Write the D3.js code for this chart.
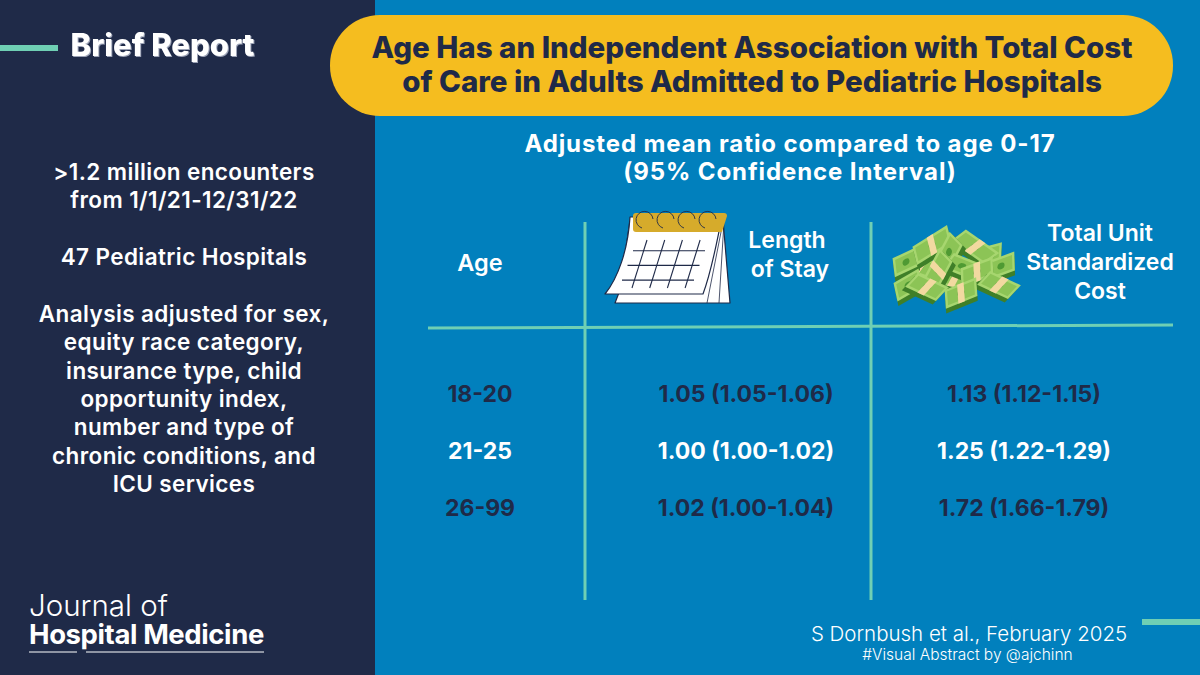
<!DOCTYPE html>
<html>
<head>
<meta charset="utf-8">
<script src="https://cdnjs.cloudflare.com/ajax/libs/d3/7.8.5/d3.min.js"></script>
<style>
html,body{margin:0;padding:0;background:#0180bd}
svg{display:block}
text{font-family:Inter,"Noto Sans",sans-serif}
</style>
</head>
<body>
<svg id="chart" width="1200" height="675"></svg>
<script>
var ages = ["18-20", "21-25", "26-99"];
var losValues = ["1.05 (1.05-1.06)", "1.00 (1.00-1.02)", "1.02 (1.00-1.04)"];
var costValues = ["1.13 (1.12-1.15)", "1.25 (1.22-1.29)", "1.72 (1.66-1.79)"];
var columns = ["age", "los", "cost"];
var titleLines = ["Age Has an Independent Association with Total Cost", "of Care in Adults Admitted to Pediatric Hospitals"];
var subtitleLines = ["Adjusted mean ratio compared to age 0-17", "(95% Confidence Interval)"];
var sideLines = [">1.2 million encounters", "from 1/1/21-12/31/22", "", "47 Pediatric Hospitals", "", "Analysis adjusted for sex,",
  "equity race category,", "insurance type, child", "opportunity index,", "number and type of", "chronic conditions, and", "ICU services"];

var navy = "#1f2a48", blue = "#0180bd", yellow = "#f5bd1f", teal = "#6fcfb4", white = "#ffffff";

var svg = d3.select("#chart");
svg.append("rect").attr("width", 1200).attr("height", 675).attr("fill", blue);
svg.append("rect").attr("width", 375).attr("height", 675).attr("fill", navy);

function label(g, x, y, str, size, weight, color, anchor) {
  return g.append("text").attr("x", x).attr("y", y).text(str)
    .attr("font-size", size).attr("font-weight", weight).attr("fill", color)
    .attr("text-anchor", anchor || "middle");
}
function bar(x1, y1, x2, y2, w) {
  svg.append("line").attr("x1", x1).attr("y1", y1).attr("x2", x2).attr("y2", y2)
    .attr("stroke", teal).attr("stroke-width", w);
}

// accents
bar(0, 48, 58, 48, 6);
bar(1142, 622, 1200, 622, 6);

// brief report
label(svg, 162.5, 56, "Brief Report", 31, 800, white)
  .style("filter", "drop-shadow(1.5px 1.5px 0 #9aa1b5)");

// title pill
svg.append("rect").attr("x", 330).attr("y", 15).attr("width", 843).attr("height", 101).attr("rx", 50).attr("fill", yellow);
titleLines.forEach(function(t, i) { label(svg, 752, 58 + i * 34, t, 29.5, 800, navy); });

// side text
var sideY = d3.scaleLinear().domain([0, sideLines.length - 1]).range([180, 492]);
sideLines.forEach(function(t, i) { label(svg, 184, sideY(i), t, 22.5, 600, white).attr("letter-spacing", 0.4); });

// journal
label(svg, 29, 616, "Journal of", 29.5, 300, white, "start");
label(svg, 29, 644, "Hospital Medicine", 27.5, 700, white, "start").attr("letter-spacing", -0.4);
svg.append("path").attr("d", "M29,652H77M86,652H264").attr("stroke", white).attr("stroke-width", 1).attr("fill", "none");

// subtitle
subtitleLines.forEach(function(t, i) { label(svg, 790, 152 + i * 28, t, 24, 700, white).attr("letter-spacing", 0.9); });

// table
var x = d3.scaleOrdinal().domain(columns).range([480, 746, 1024]);
var y = d3.scalePoint().domain(ages).range([394, 508]);

bar(428, 328, 1173, 325, 3);
bar(585, 222, 585, 600, 3);
bar(871, 222, 871, 600, 3);

label(svg, x("age"), 271, "Age", 23.5, 600, white);
label(svg, 787, 248, "Length", 23, 600, white);
label(svg, 790, 277, "of Stay", 23, 600, white);
label(svg, 1100, 241, "Total Unit", 23, 600, white);
label(svg, 1100, 270, "Standardized", 23, 600, white);
label(svg, 1100, 299, "Cost", 23, 600, white);

var rows = svg.selectAll("g.row").data(ages).enter().append("g").attr("class", "row")
  .attr("transform", function(d) { return "translate(0," + (y(d) + 8) + ")"; });
function rowColor(d) { return d === "21-25" ? white : navy; }
rows.append("text").attr("x", x("age")).text(function(d) { return d; });
rows.append("text").attr("x", x("los")).text(function(d, i) { return losValues[i]; });
rows.append("text").attr("x", x("cost")).text(function(d, i) { return costValues[i]; });
rows.selectAll("text").attr("text-anchor", "middle").attr("font-size", 23).attr("font-weight", 700)
  .attr("fill", function() { return rowColor(d3.select(this.parentNode).datum()); });

// footer
label(svg, 969, 641, "S Dornbush et al., February 2025", 20.5, 300, white);
label(svg, 967.5, 660, "#Visual Abstract by @ajchinn", 15.5, 300, white);

// calendar icon
var cal = svg.append("g").attr("fill", "none").attr("stroke", navy).attr("stroke-linejoin", "round");
cal.append("path").attr("d", "M615,303L730,303L723,220L630,220L620,290Z").attr("fill", white).attr("stroke-width", 1.2);
cal.append("path").attr("d", "M707,303L723,222M719,303L724,222").attr("stroke-width", 0.8);
cal.append("path").attr("d", "M605,294C618,278 628,250 630,217L722,217C716,245 712,270 703,294Z").attr("fill", white).attr("stroke-width", 1.2);
cal.append("path").attr("d", "M636,213L724,213Q727,213 727,216L722,232L636,232Q633,232 633,229L633,216Q633,213 636,213Z")
  .attr("fill", "#d6ab2b").attr("stroke", "none");
[0, 1, 2].forEach(function(i) {
  var rowY = 250.7 + i * 14.7, shift = i * 5.5;
  cal.append("line").attr("x1", 633 - shift).attr("x2", 705 - shift).attr("y1", rowY).attr("y2", rowY).attr("stroke-width", 1.1);
});
[0, 1, 2, 3].forEach(function(i) {
  var step = i * 17.7;
  cal.append("line").attr("x1", 647 + step).attr("y1", 240).attr("x2", 632 + step).attr("y2", 288).attr("stroke-width", 1.1);
});
[645, 666, 687, 708].forEach(function(cx) {
  cal.append("path").attr("d", "M" + (cx - 3) + ",228A8.5,8.5 0 1 1 " + (cx + 8) + ",219").attr("stroke-width", 0.9);
});

// money icon
var bundles = [
  [985, 256, -15, 1], [920, 266, 20, 1], [955, 278, 10, 1.2],
  [906, 262, -25, 0.8], [932, 245, -32, 1.2], [975, 247, 35, 1.2], [1001, 266, -20, 0.85],
  [949, 252, -62, 0.9], [908, 285, -30, 0.85], [962, 266, 22, 0.9], [938, 270, -62, 1],
  [927, 287, 25, 1], [977, 272, -20, 1], [999, 285, 25, 1], [961, 293, -22, 1]
];
var money = svg.append("g");
bundles.forEach(function(b) {
  var w = 17 * b[3], h = 9;
  var g = money.append("g").attr("transform", "translate(" + b[0] + "," + b[1] + ") rotate(" + b[2] + ") skewX(-18)");
  g.append("rect").attr("x", -w).attr("y", -h + 4.5).attr("width", w * 2).attr("height", h * 2).attr("fill", "#3f7f28");
  g.append("rect").attr("x", -w).attr("y", -h).attr("width", w * 2).attr("height", h * 2).attr("fill", "#a7d66f");
  g.append("rect").attr("x", -w + 2.5).attr("y", -h + 2.5).attr("width", w * 2 - 5).attr("height", h * 2 - 5).attr("fill", "#8cc456");
  g.append("ellipse").attr("rx", 3.8).attr("ry", 3).attr("fill", "#4f9a33");
  if (b[3] >= 1) g.append("rect").attr("x", -3.5).attr("y", -h).attr("width", 7).attr("height", h * 2).attr("fill", "#f2d9a0");
});
</script>
</body>
</html>
